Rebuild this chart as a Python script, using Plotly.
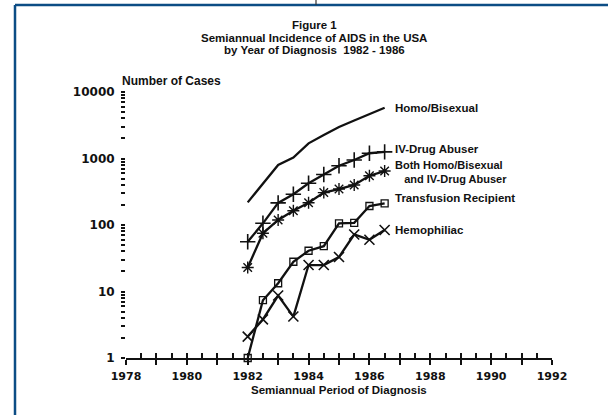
import numpy as np
import plotly.graph_objects as go

# ---------------- data ----------------
periods = [1982.0, 1982.5, 1983.0, 1983.5, 1984.0, 1984.5, 1985.0, 1985.5, 1986.0, 1986.5]
homo_bisexual = [219, 414, 800, 1030, 1690, 2250, 2975, 3730, 4670, 5800]
iv_drug = [56, 106, 215, 290, 424, 576, 779, 950, 1200, 1260]
both_homo_iv = [23, 75, 119, 164, 216, 307, 347, 400, 550, 648]
transfusion = [1, 7.4, 13.3, 28, 41, 48, 106, 108, 193, 211]
hemophiliac = [2.1, 3.8, 8.7, 4.2, 25, 25, 33, 72, 60, 84]

series_names = ["Homo/Bisexual", "IV-Drug Abuser", "Both Homo/Bisexual<br>&nbsp;&nbsp;&nbsp;and IV-Drug Abuser",
                "Transfusion Recipient", "Hemophiliac"]
x_tick_vals = [1978, 1980, 1982, 1984, 1986, 1988, 1990, 1992]
x_tick_labels = ["1978", "1980", "1982", "1984", "1986", "1988", "1990", "1992"]
y_decades = [1, 10, 100, 1000, 10000]
y_tick_labels = ["1", "10", "100", "1000", "10000"]

title_lines = ["Figure 1", "Semiannual Incidence of AIDS in the USA", "by Year of Diagnosis  1982 - 1986"]

# ---------------- layout constants ----------------
W, H = 608, 415
L, R, T, B = 126, 56, 92, 57
PW, PH = W - L - R, H - T - B
INK = "#111111"
FONT = "Liberation Sans"


def px_to_paper(px, py):
    return (px - L) / PW, (H - B - py) / PH


fig = go.Figure()

line_style = dict(color=INK, width=2.3)
fig.add_trace(go.Scatter(x=periods, y=homo_bisexual, mode="lines", line=line_style,
                         name="Homo/Bisexual", cliponaxis=False))
fig.add_trace(go.Scatter(x=periods, y=iv_drug, mode="lines+markers", line=line_style,
                         marker=dict(symbol="cross-thin-open", size=11, line=dict(color=INK, width=1.6)),
                         name="IV-Drug Abuser", cliponaxis=False))
fig.add_trace(go.Scatter(x=periods, y=both_homo_iv, mode="lines+markers", line=line_style,
                         marker=dict(symbol="asterisk-open", size=10, line=dict(color=INK, width=1.4)),
                         name="Both Homo/Bisexual and IV-Drug Abuser", cliponaxis=False))
fig.add_trace(go.Scatter(x=periods, y=transfusion, mode="lines+markers", line=line_style,
                         marker=dict(symbol="square-open", size=7, color=INK, line=dict(color=INK, width=1.3)),
                         name="Transfusion Recipient", cliponaxis=False))
fig.add_trace(go.Scatter(x=periods, y=hemophiliac, mode="lines+markers", line=line_style,
                         marker=dict(symbol="x-thin-open", size=10, line=dict(color=INK, width=1.6)),
                         name="Hemophiliac", cliponaxis=False))
# empty trace to activate the overlay axis carrying the upward tick marks
fig.add_trace(go.Scatter(x=[None], y=[None], xaxis="x2", yaxis="y", showlegend=False,
                         hoverinfo="skip", mode="markers"))

y_tick_vals = []
y_tick_text = []
for dec, lab in zip(y_decades, y_tick_labels):
    y_tick_vals.append(dec)
    y_tick_text.append(lab)
    if dec < y_decades[-1]:
        for k in range(2, 10):
            y_tick_vals.append(dec * k)
            y_tick_text.append("")

fig.update_layout(
    width=W, height=H,
    margin=dict(l=L, r=R, t=T, b=B, pad=0),
    paper_bgcolor="white", plot_bgcolor="white",
    showlegend=False,
    font=dict(family=FONT, color=INK),
    xaxis=dict(
        range=[1978, 1992], tickmode="array", tickvals=x_tick_vals, ticktext=x_tick_labels,
        ticks="outside", ticklen=5, tickwidth=1.5, tickcolor=INK,
        minor=dict(ticks="outside", dtick=1, tick0=1978, ticklen=5, tickwidth=1.5, tickcolor=INK, showgrid=False),
        showline=True, linecolor=INK, linewidth=1.6, showgrid=False, zeroline=False,
        tickfont=dict(family="DejaVu Sans", size=11, weight="bold", color=INK),
        ticklabelstandoff=2,
    ),
    xaxis2=dict(
        overlaying="x", matches="x", anchor="y", side="bottom", range=[1978, 1992],
        tickmode="linear", tick0=1978, dtick=0.5, ticks="inside", ticklen=5, tickwidth=1.5, tickcolor=INK,
        showticklabels=False, showline=False, showgrid=False, zeroline=False,
    ),
    yaxis=dict(
        type="log", range=[0, 4], tickmode="array", tickvals=y_tick_vals, ticktext=y_tick_text,
        ticks="outside", ticklen=4, tickwidth=1.5, tickcolor=INK,
        showline=False, showgrid=False, zeroline=False,
        tickfont=dict(family="DejaVu Sans", size=12, weight="bold", color=INK),
        ticklabelstandoff=4,
    ),
)

annots = []
# title lines
for text, py in zip(title_lines, [25, 38, 50]):
    xp, yp = px_to_paper(314, py)
    annots.append(dict(text=text, x=xp, y=yp, xref="paper", yref="paper", showarrow=False,
                       xanchor="center", yanchor="middle",
                       font=dict(family=FONT, size=11.5, weight="bold", color=INK)))
# y axis title
annots.append(dict(text="Number of Cases", x=0, y=1, xref="x domain", yref="y domain", xshift=-6, yshift=11,
                   xanchor="left", yanchor="middle", showarrow=False,
                   font=dict(family=FONT, size=12, weight="bold", color=INK)))
# x axis title
annots.append(dict(text="Semiannual Period of Diagnosis", x=0.5, y=0, xref="x domain", yref="y domain",
                   yshift=-32, xanchor="center", yanchor="middle", showarrow=False,
                   font=dict(family=FONT, size=11.5, weight="bold", color=INK)))

# series labels at the end of each line
ends = [homo_bisexual[-1], iv_drug[-1], both_homo_iv[-1], transfusion[-1], hemophiliac[-1]]
label_shifts = [(8, 0, 11.5), (8, 3, 11.5), (8, -1, 11), (8, 5, 11.5), (8, 0, 11.5)]
for text, yv, (xs, ys, fs) in zip(series_names, ends, label_shifts):
    annots.append(dict(text=text, x=periods[-1], y=np.log10(yv), xref="x", yref="y",
                       xanchor="left", yanchor="middle", align="left", xshift=xs, yshift=ys, showarrow=False,
                       font=dict(family=FONT, size=fs, weight="bold", color=INK)))
fig.update_layout(annotations=annots)

# scanned-page frame (blue border lines)
BLUE = "#0c4d85"
x0, y0 = px_to_paper(15, 5)
x1, y1 = px_to_paper(W + 2, H + 2)
shapes = [
    dict(type="line", xref="paper", yref="paper", x0=x0, y0=y0, x1=x1, y1=y0, line=dict(color=BLUE, width=2.5)),
    dict(type="line", xref="paper", yref="paper", x0=x0, y0=y0, x1=x0, y1=y1, line=dict(color=BLUE, width=2.5)),
]
vx, vy0 = px_to_paper(316, -2)
_, vy1 = px_to_paper(316, 5)
shapes.append(dict(type="line", xref="paper", yref="paper", x0=vx, y0=vy0, x1=vx, y1=vy1,
                   line=dict(color="#333333", width=1.2)))
fig.update_layout(shapes=shapes)

fig.write_html("out.html", config={"displayModeBar": False},
               post_script="document.body.style.margin='0';document.body.style.overflow='hidden';")
